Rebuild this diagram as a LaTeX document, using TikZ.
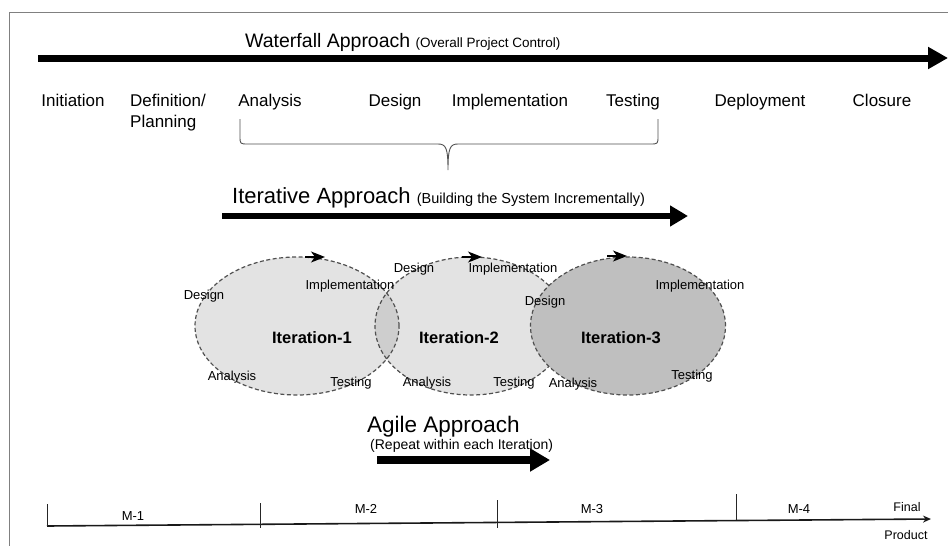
\documentclass[tikz,border=0pt]{standalone}
\usepackage{fontspec}
\setmainfont{Liberation Sans}
\usetikzlibrary{arrows.meta}
\definecolor{frm}{RGB}{128, 128, 128}
\definecolor{lgt}{RGB}{227, 227, 227}
\definecolor{mid}{RGB}{206, 206, 206}
\definecolor{drk}{RGB}{191, 191, 191}
\definecolor{edg}{RGB}{80, 80, 80}
\tikzset{
  phase/.style={font=\fontsize{17}{21}\selectfont},
  steplbl/.style={font=\fontsize{13}{15}\selectfont},
  iterlbl/.style={font=\fontsize{16.5}{19}\selectfont\bfseries},
  mslbl/.style={font=\fontsize{13}{15}\selectfont},
  bigarrow/.style={line width=7pt, -{Triangle[length=20pt, width=21pt]}},
  cycline/.style={draw=edg, line width=1.2pt, dash pattern=on 4pt off 2.5pt},
  cyctip/.style={line width=1.4pt, -{Stealth[length=14pt, width=11pt, inset=4pt]}},
  tick/.style={line width=0.9pt, color=black!85}
}

\begin{document}
\begin{tikzpicture}[x=1pt, y=-1pt, every node/.style={inner sep=0pt}]
      \useasboundingbox (0, 0) rectangle (948, 546);
      \draw[color=frm, line width=1pt] (9, 546) -- (9, 12) -- (948, 12);
      % waterfall
      \node[anchor=base west] (wf) at (245, 47) {\fontsize{19.5}{22}\selectfont Waterfall Approach \fontsize{13.5}{15}\selectfont(Overall Project Control)};
      \coordinate (wfs) at (38, 58);
      \coordinate (wfe) at (948, 58);
      \draw[bigarrow] (wfs) -- (wfe);
      \node[phase, anchor=base] (init) at (73, 106) {Initiation};
      \node[phase, anchor=north west, align=left] (defn) at (130, 93.6) {Definition/\\Planning};
      \node[phase, anchor=base] (anl) at (270, 106) {Analysis};
      \node[phase, anchor=base] (dsg) at (395, 106) {Design};
      \node[phase, anchor=base] (imp) at (510, 106) {Implementation};
      \node[phase, anchor=base] (tst) at (633, 106) {Testing};
      \node[phase, anchor=base] (dep) at (760, 106) {Deployment};
      \node[phase, anchor=base] (cls) at (882, 106) {Closure};
      \draw[color=edg, line width=0.9pt] (240, 119) -- (240, 136) .. controls (240, 144) .. (248, 144) -- (438, 144)
        .. controls (446, 144) and (448, 148) .. (448, 170) .. controls (448, 148) and (450, 144) .. (458, 144)
        -- (650, 144) .. controls (658, 144) .. (658, 136) -- (658, 119);
      % iterative
      \node[anchor=base west] (itv) at (232, 203) {\fontsize{22}{25}\selectfont Iterative Approach \fontsize{14.5}{16}\selectfont(Building the System Incrementally)};
      \coordinate (its) at (222, 216);
      \coordinate (ite) at (688, 216);
      \draw[line width=6pt, -{Triangle[length=18pt, width=20pt]}] (its) -- (ite);
      \coordinate (c1) at (297, 326);
      \coordinate (c2) at (471, 326);
      \coordinate (c3) at (628, 326);
      \fill[lgt] (c1) ellipse [x radius=102pt, y radius=69pt];
      \fill[lgt] (c2) ellipse [x radius=96pt, y radius=69pt];
      \begin{scope}
        \clip (c1) ellipse [x radius=102pt, y radius=69pt];
        \fill[mid] (c2) ellipse [x radius=96pt, y radius=69pt];
      \end{scope}
      \draw[cycline] (c1) ellipse [x radius=102pt, y radius=69pt];
      \draw[cycline] (c2) ellipse [x radius=96pt, y radius=69pt];
      \draw[cycline, fill=drk] (c3) ellipse [x radius=97.5pt, y radius=69pt];
      \coordinate (a1) at (305, 257);
      \coordinate (b1) at (325, 257);
      \coordinate (a2) at (462, 257);
      \coordinate (b2) at (482, 257);
      \coordinate (a3) at (607, 256);
      \coordinate (b3) at (627, 256);
      \draw[cyctip] (a1) -- (b1);
      \draw[cyctip] (a2) -- (b2);
      \draw[cyctip] (a3) -- (b3);
      \node[steplbl] (d1) at (204, 296) {Design};
      \node[steplbl] (i1) at (350, 286) {Implementation};
      \node[steplbl] (n1) at (232, 377) {Analysis};
      \node[steplbl] (t1) at (351, 383) {Testing};
      \node[steplbl] (d2) at (414, 269) {Design};
      \node[steplbl] (i2) at (513, 269) {Implementation};
      \node[steplbl] (n2) at (427, 383) {Analysis};
      \node[steplbl] (t2) at (514, 383) {Testing};
      \node[steplbl] (d3) at (545, 302) {Design};
      \node[steplbl] (i3) at (700, 286) {Implementation};
      \node[steplbl] (n3) at (573, 384) {Analysis};
      \node[steplbl] (t3) at (692, 376) {Testing};
      \node[iterlbl] (it1) at (312, 338) {Iteration-1};
      \node[iterlbl] (it2) at (459, 338) {Iteration-2};
      \node[iterlbl] (it3) at (621, 338) {Iteration-3};
      % agile
      \node[anchor=base west] (agl) at (367, 432) {\fontsize{22.5}{25}\selectfont Agile Approach};
      \node[anchor=base west] (rpt) at (370, 449) {\fontsize{14}{16}\selectfont(Repeat within each Iteration)};
      \coordinate (ags) at (377, 460);
      \coordinate (age) at (550, 460);
      \draw[line width=7.5pt, -{Triangle[length=20pt, width=22pt]}] (ags) -- (age);
      % milestones
      \coordinate (m0) at (47, 526);
      \coordinate (mend) at (931, 519);
      \draw[line width=1.6pt, color=black!90, -{Stealth[length=8pt, width=7pt]}] (m0) -- (mend);
      \draw[tick] (47, 504) -- (m0);
      \draw[tick] (260, 503) -- (260, 528);
      \draw[tick] (497, 500) -- (497, 528);
      \draw[tick] (736, 494) -- (736, 520);
      \node[mslbl] (ms1) at (133, 516) {M-1};
      \node[mslbl] (ms2) at (366, 509) {M-2};
      \node[mslbl] (ms3) at (592, 509) {M-3};
      \node[mslbl] (ms4) at (799, 509) {M-4};
      \node[font=\fontsize{12.5}{14}\selectfont] (fin) at (907, 507) {Final};
      \node[font=\fontsize{12.5}{14}\selectfont] (prd) at (906, 535) {Product};
    \end{tikzpicture}
\end{document}
